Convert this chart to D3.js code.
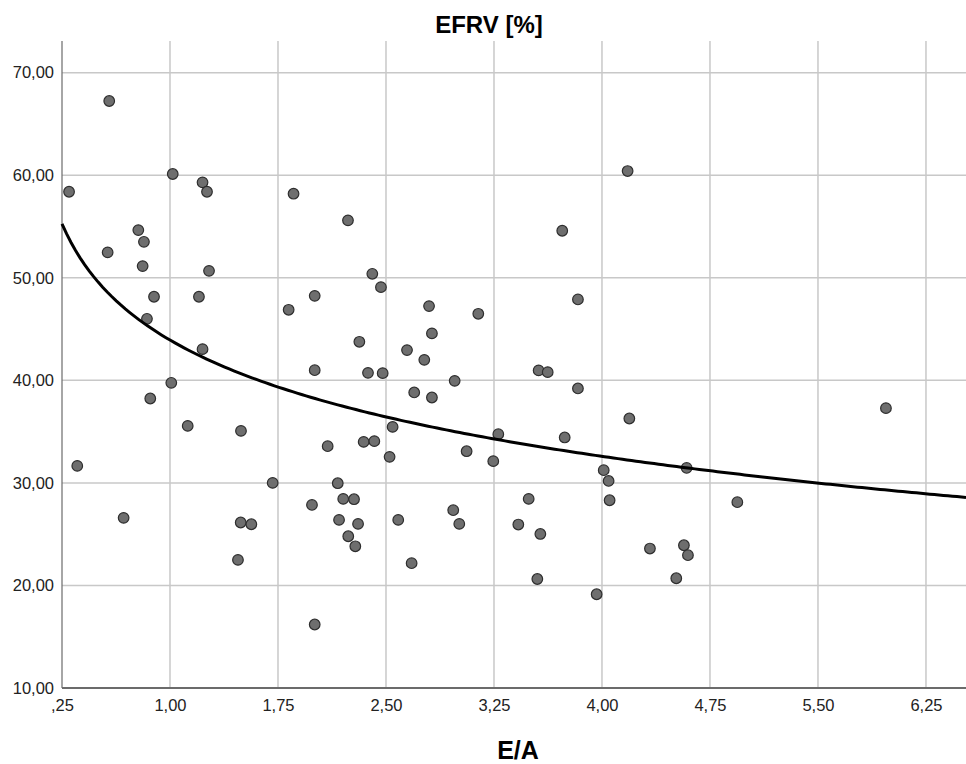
<!DOCTYPE html>
<html><head><meta charset="utf-8">
<script src="https://cdn.jsdelivr.net/npm/d3@7"></script>
<style>
html,body{margin:0;padding:0;background:#fff;}
svg{display:block;font-family:"Liberation Sans",Arial,sans-serif;}
</style></head>
<body><svg id="chart" width="966" height="764"></svg>
<script>
// E/A values (x)
const eaValues = [0.299,0.578,1.019,1.226,1.257,1.858,0.780,0.819,0.567,0.810,1.271,0.889,1.201,2.005,1.824,0.840,1.226,2.005,1.009,0.863,1.123,1.493,0.356,1.713,0.678,1.491,1.565,1.986,1.472,2.005,2.095,2.236,3.724,4.178,2.405,2.465,2.799,3.141,3.833,2.819,2.315,2.646,2.766,2.375,2.477,3.560,3.623,2.977,3.833,2.696,2.819,2.546,3.280,3.741,2.345,2.419,3.060,2.525,3.245,4.012,4.190,4.046,4.053,2.165,2.203,2.278,3.491,2.174,2.306,2.585,2.967,3.009,3.419,3.572,2.238,2.287,2.678,3.551,3.963,5.972,4.588,4.940,4.333,4.569,4.597,4.516];
// EFRV [%] values (y)
const efrvValues = [58.39,67.24,60.12,59.31,58.39,58.2,54.65,53.51,52.48,51.14,50.68,48.15,48.15,48.24,46.88,46.0,43.04,40.99,39.76,38.23,35.56,35.07,31.66,30.0,26.59,26.14,25.97,27.85,22.49,16.19,33.58,55.6,54.59,60.41,50.39,49.09,47.24,46.49,47.89,44.58,43.76,42.95,42.0,40.73,40.7,40.97,40.8,39.95,39.21,38.82,38.33,35.46,34.75,34.43,34.0,34.07,33.09,32.54,32.12,31.24,36.28,30.19,28.31,29.97,28.44,28.41,28.44,26.39,26.0,26.39,27.34,26.0,25.94,25.02,24.8,23.82,22.17,20.63,19.14,37.29,31.46,28.12,23.6,23.92,22.95,20.7];
// logarithmic fit line: y = fitA + fitB * ln(x)
const fitA = 43.93;
const fitB = -8.18;
const xTickValues = [0.25,1.00,1.75,2.50,3.25,4.00,4.75,5.50,6.25];
const xTickLabels = [",25","1,00","1,75","2,50","3,25","4,00","4,75","5,50","6,25"];
const yTickValues = [10,20,30,40,50,60,70];
const yTickLabels = ["10,00","20,00","30,00","40,00","50,00","60,00","70,00"];
const xDomain = [0.25, 6.528];

(function () {
const svg = d3.select("#chart");
const mLeft = 62, mRight = 966, mTop = 41, mBottom = 688;
const x = d3.scaleLinear().domain(xDomain).range([mLeft, mRight]);
const y = d3.scaleLinear().domain([10, 70]).range([mBottom, 72.7]);

// gridlines
const grid = svg.append("g");
grid.selectAll("line.v").data(xTickValues.slice(1)).join("line")
  .attr("class", "v")
  .attr("x1", d => x(d)).attr("x2", d => x(d))
  .attr("y1", mTop).attr("y2", mBottom)
  .attr("stroke", "#c8c8c8").attr("stroke-width", 1.5);
grid.selectAll("line.h").data(yTickValues.slice(1)).join("line")
  .attr("class", "h")
  .attr("x1", mLeft).attr("x2", mRight)
  .attr("y1", d => y(d)).attr("y2", d => y(d))
  .attr("stroke", "#c8c8c8").attr("stroke-width", 1.5);

// axes lines
svg.append("line").attr("x1", mLeft).attr("x2", mLeft).attr("y1", mTop).attr("y2", mBottom)
  .attr("stroke", "#6b6b6b").attr("stroke-width", 1.2);
svg.append("line").attr("x1", mLeft).attr("x2", mRight).attr("y1", mBottom).attr("y2", mBottom)
  .attr("stroke", "#6b6b6b").attr("stroke-width", 2);

// tick labels via axes
const xAxis = d3.axisBottom(x).tickValues(xTickValues)
  .tickFormat((d, i) => xTickLabels[i]).tickSize(0).tickPadding(11);
const gx = svg.append("g").attr("transform", `translate(0,${mBottom})`).call(xAxis);
gx.select(".domain").remove();
gx.selectAll("text").attr("font-size", 16.5).attr("fill", "#222")
  .attr("font-family", "'Liberation Sans', Arial, sans-serif");

const yAxis = d3.axisLeft(y).tickValues(yTickValues)
  .tickFormat((d, i) => yTickLabels[i]).tickSize(0).tickPadding(8);
const gy = svg.append("g").attr("transform", `translate(${mLeft},0)`).call(yAxis);
gy.select(".domain").remove();
gy.selectAll("text").attr("font-size", 16.5).attr("fill", "#222")
  .attr("font-family", "'Liberation Sans', Arial, sans-serif");

// fit curve
const curveXs = d3.range(0, 201).map(i => xDomain[0] + (xDomain[1] - xDomain[0]) * i / 200);
const line = d3.line().x(d => x(d)).y(d => y(fitA + fitB * Math.log(d)));

// points
svg.append("g").selectAll("circle").data(eaValues.map((v, i) => [v, efrvValues[i]])).join("circle")
  .attr("cx", d => x(d[0])).attr("cy", d => y(d[1])).attr("r", 5.3)
  .attr("fill", "#6e6e6e").attr("stroke", "#2e2e2e").attr("stroke-width", 1.2);

svg.append("path").datum(curveXs).attr("d", line)
  .attr("fill", "none").attr("stroke", "#000").attr("stroke-width", 3);

// titles
svg.append("text").attr("x", 489).attr("y", 33).attr("text-anchor", "middle")
  .attr("font-size", 24).attr("font-weight", "bold").attr("fill", "#000").text("EFRV [%]");
svg.append("text").attr("x", 518).attr("y", 759).attr("text-anchor", "middle")
  .attr("font-size", 25).attr("font-weight", "bold").attr("fill", "#000").text("E/A");
})();
</script></body></html>
